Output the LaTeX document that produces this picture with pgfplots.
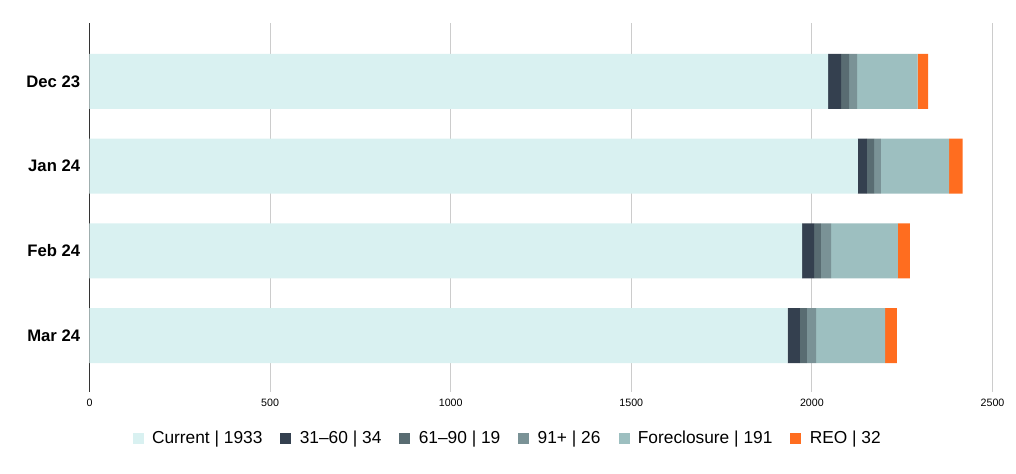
\documentclass[border=0pt]{standalone}
\usepackage{fontspec}
\setmainfont{Liberation Sans}
\usepackage{pgfplots}
\pgfplotsset{compat=1.18}
\definecolor{cCur}{HTML}{D9F1F1}
\definecolor{cA}{HTML}{34404F}
\definecolor{cB}{HTML}{596C72}
\definecolor{cC}{HTML}{7A9296}
\definecolor{cF}{HTML}{9DBFC0}
\definecolor{cR}{HTML}{FF6D1F}
\begin{document}
\begin{tikzpicture}
\useasboundingbox (-67.125pt,-61.5pt) rectangle (694.875pt,294pt);
\begin{axis}[
  at={(0pt,0pt)}, anchor=south west,
  scale only axis, width=677.25pt, height=276.75pt,
  xbar stacked, bar width=41.25pt,
  xmin=0, xmax=2500, ymin=-0.69, ymax=3.667, y dir=reverse,
  ytick={0,1,2,3}, yticklabels={Dec 23,Jan 24,Feb 24,Mar 24},
  yticklabel style={font=\bfseries\fontsize{12.5}{14}\selectfont, xshift=-3.5pt},
  xtick={0,500,...,2500},
  xticklabel style={font=\fontsize{8}{9}\selectfont, yshift=-2pt},
  /pgf/number format/assume math mode=true,
  scaled x ticks=false, /pgf/number format/1000 sep={},
  xmajorgrids, grid style={draw=black!20, line width=0.75pt},
  extra x ticks={0}, extra x tick labels={},
  extra x tick style={grid style={draw=black!80, line width=0.75pt}},
  axis line style={draw=none}, major tick length=0pt,
  legend columns=6,
  legend style={at={(axis description cs:0.4635,-0.1265)}, anchor=center, draw=none,
    font=\fontsize{13}{15}\selectfont,
    /tikz/every even column/.append style={column sep=11.5pt},
    /tikz/every odd column/.append style={column sep=4.25pt}},
  legend image code/.code={\fill[#1] (0pt,-4.125pt) rectangle (8.25pt,4.125pt);},
  every axis plot/.append style={draw=none},
]
\addplot[fill=cCur] coordinates {(2045,0) (2127,1) (1973,2) (1933,3)};
\addplot[fill=cA] coordinates {(36,0) (25,1) (33,2) (34,3)};
\addplot[fill=cB] coordinates {(22,0) (20,1) (19,2) (19,3)};
\addplot[fill=cC] coordinates {(22,0) (19,1) (28,2) (26,3)};
\addplot[fill=cF] coordinates {(168,0) (189,1) (185,2) (191,3)};
\addplot[fill=cR] coordinates {(29,0) (37,1) (33,2) (32,3)};
\legend{Current | 1933, 31--60 | 34, 61--90 | 19, 91+ | 26, Foreclosure | 191, REO | 32}
\end{axis}
\end{tikzpicture}
\end{document}
